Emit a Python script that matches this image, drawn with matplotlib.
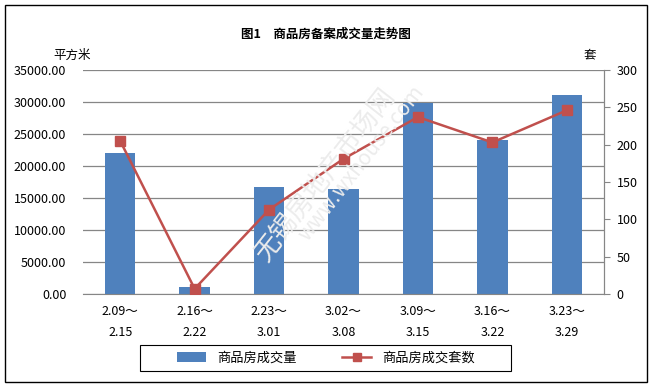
import matplotlib.pyplot as plt
from matplotlib.patches import Rectangle

plt.rcParams['font.family'] = ['Noto Sans CJK SC', 'DejaVu Sans']

# weekly periods
periods = ['2.09～\n2.15', '2.16～\n2.22', '2.23～\n3.01', '3.02～\n3.08',
           '3.09～\n3.15', '3.16～\n3.22', '3.23～\n3.29']
# area sold (sq m) and units sold
area = [22000, 1100, 16700, 16400, 29900, 24050, 31100]
units = [205, 7, 113, 181, 237, 203, 246]

bar_color = '#4F81BD'
line_color = '#C0504D'
grid_color = '#868686'

fig = plt.figure(figsize=(6.52, 3.88), dpi=100)
ax = fig.add_axes([83 / 652, 1 - 294 / 388, 521 / 652, 224 / 388])
ax2 = ax.twinx()

x = range(len(periods))
bars = ax.bar(x, area, width=0.41, color=bar_color, zorder=2, label='商品房成交量')
line, = ax2.plot(x, units, color=line_color, lw=1.8, marker='s', ms=7,
                 label='商品房成交套数', zorder=3)

ax.set_xlim(-0.5, len(periods) - 0.5)
ax.set_ylim(0, 35000)
ax.set_yticks(range(0, 35001, 5000))
ax.set_yticklabels([f'{v:.2f}' for v in range(0, 35001, 5000)], fontsize=9)
ax.yaxis.grid(True, color=grid_color, lw=0.9, zorder=0)
ax.set_axisbelow(True)
ax.set_xticks(list(x))
ax.set_xticklabels(periods, fontsize=9, linespacing=1.8)
ax.tick_params(axis='x', length=0, pad=8)
ax.tick_params(axis='y', length=0, pad=12)

ax2.set_ylim(0, 300)
ax2.set_yticks(range(0, 301, 50))
ax2.tick_params(axis='y', labelsize=9, length=4, color=grid_color, pad=5)

for a in (ax, ax2):
    for s in ('top', 'left'):
        a.spines[s].set_visible(False)
    a.spines['bottom'].set_color(grid_color)
    a.spines['right'].set_color(grid_color)
ax2.spines['bottom'].set_visible(False)

fig.text(0.5, 1 - 34 / 388, '图1　商品房备案成交量走势图', ha='center', va='center',
         fontsize=9, fontweight='bold')
fig.text(72 / 652, 1 - 55 / 388, '平方米', ha='center', va='center', fontsize=9)
fig.text(590 / 652, 1 - 55 / 388, '套', ha='center', va='center', fontsize=9)

# watermark
fig.text(0.50, 0.55, '无锡房地产市场网', rotation=52, ha='center', va='center',
         fontsize=19, color='#ececec', zorder=0)
fig.text(0.555, 0.58, 'www.wxhouse.com', rotation=52, ha='center', va='center',
         fontsize=15, color='#ececec', zorder=0)

# legend (box drawn separately so the entries stay centred)
fig.legend(handles=[bars, line], loc='center',
           bbox_to_anchor=(326 / 652, 1 - 358 / 388), ncol=2, fontsize=9.5,
           frameon=False, handlelength=2.2, columnspacing=3.5,
           markerscale=0.85, borderaxespad=0)
fig.patches.append(Rectangle((140 / 652, 1 - 371 / 388), 371 / 652, 26 / 388,
                             transform=fig.transFigure, fill=False,
                             edgecolor='black', lw=0.8))

fig.patches.append(Rectangle((5 / 652, 6 / 388), 642 / 652, 377 / 388,
                             transform=fig.transFigure, fill=False,
                             edgecolor='black', lw=1))

fig.savefig('out.png', dpi=100)
